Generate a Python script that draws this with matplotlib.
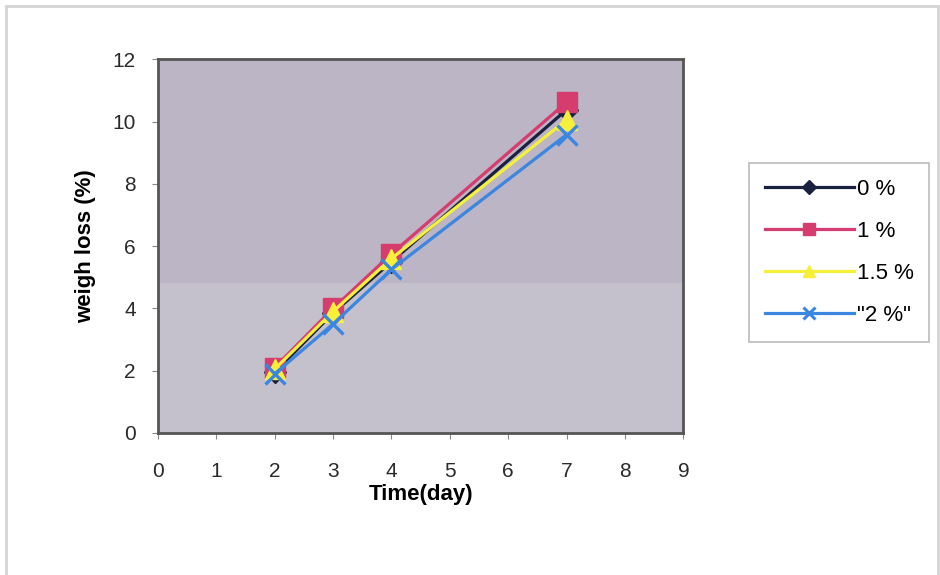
import matplotlib
matplotlib.use("Agg")
import matplotlib.pyplot as plt
from matplotlib.patches import Rectangle

days = [2, 3, 4, 7]
series_labels = ["0 %", "1 %", "1.5 %", "\"2 %\""]
loss_0 = [1.95, 3.85, 5.50, 10.38]
loss_1 = [2.10, 4.00, 5.75, 10.62]
loss_15 = [2.05, 3.90, 5.60, 10.05]
loss_2 = [1.90, 3.50, 5.25, 9.58]
xticks = list(range(0, 10))
yticks = list(range(0, 13, 2))

plt.rcParams['font.family'] = ['Liberation Sans', 'DejaVu Sans']

fig = plt.figure(figsize=(9.4, 5.75), dpi=100)
fig.patches.append(Rectangle((0.006, -0.01), 0.992, 1.0, transform=fig.transFigure,
                             fill=False, edgecolor='#d4d4d4', linewidth=2))
ax = fig.add_axes([0.168, 0.247, 0.559, 0.650])
ax.set_facecolor('#c5c1cc')
ax.axhspan(4.8, 12, color='#bbb5c5', zorder=0, linewidth=0)

styles = [
    (loss_0, '#1a2040', 'D', 11),
    (loss_1, '#d63c6e', 's', 15),
    (loss_15, '#f6f03a', '^', 14),
    (loss_2, '#3b86e0', 'x', 15),
]
handles = []
for (vals, col, mk, ms), lab in zip(styles, series_labels):
    ax.plot(days, vals, color=col, marker=mk, markersize=ms, linewidth=2.3,
            markeredgewidth=2.4 if mk == 'x' else 1)
    h, = ax.plot([], [], color=col, marker=mk, markersize=ms * 0.62,
                 linewidth=2.3, markeredgewidth=2.2 if mk == 'x' else 1,
                 label=lab)
    handles.append(h)

ax.set_xlim(0, 9)
ax.set_ylim(0, 12)
ax.set_xticks(xticks)
ax.set_yticks(yticks)
ax.tick_params(axis='both', direction='out', length=4, color='#888888',
               labelsize=15, labelcolor='#2a2a2a')
ax.tick_params(axis='x', pad=17)
ax.tick_params(axis='y', pad=12)
for s in ax.spines.values():
    s.set_color('#555555')
    s.set_linewidth(2)

ax.set_xlabel('Time(day)', fontsize=16, fontweight='bold', labelpad=2)
ax.set_ylabel('weigh loss (%)', fontsize=16, fontweight='bold', labelpad=12)

leg = fig.legend(handles=handles, loc='upper left', bbox_to_anchor=(0.797, 0.716),
                 frameon=True, fancybox=False, edgecolor='#aaaaaa', fontsize=16,
                 handlelength=4.0, handletextpad=0.15, labelspacing=0.95,
                 borderpad=0.7, borderaxespad=0)
leg.get_frame().set_linewidth(1.2)

fig.savefig('out.png', dpi=100)
